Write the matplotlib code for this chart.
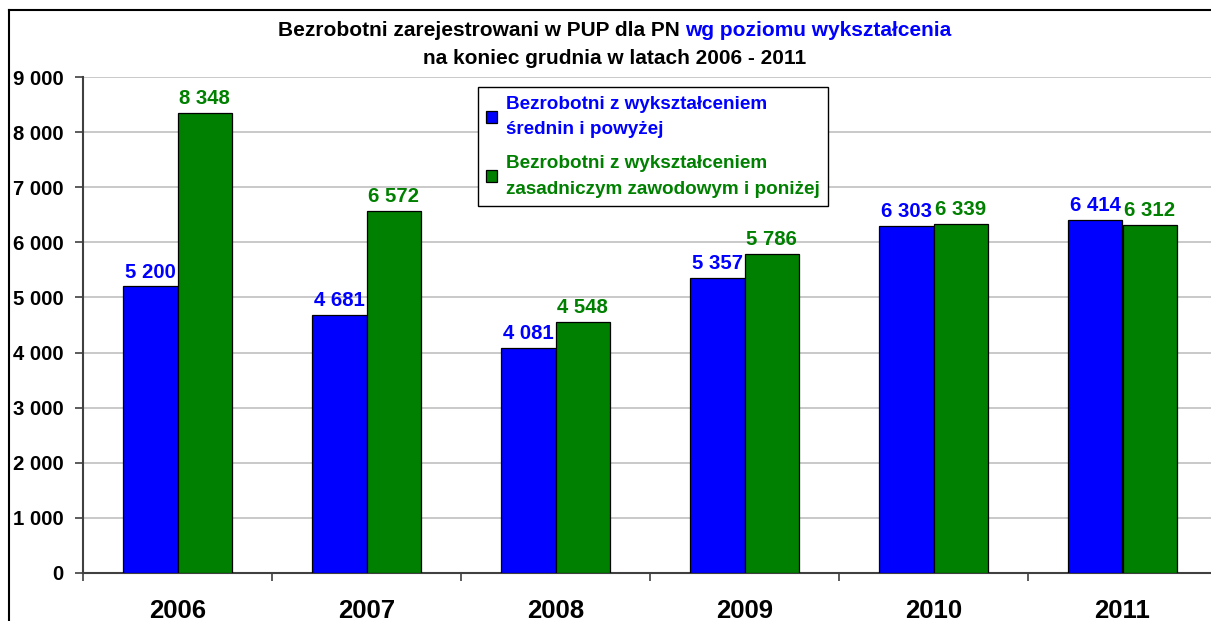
import matplotlib.pyplot as plt
from matplotlib.lines import Line2D
from matplotlib.ticker import FuncFormatter, MultipleLocator
import numpy as np

plt.rcParams['font.family'] = ['Liberation Sans', 'DejaVu Sans']
plt.rcParams['font.weight'] = 'bold'

years = ['2006', '2007', '2008', '2009', '2010', '2011']
srednie = [5200, 4681, 4081, 5357, 6303, 6414]
zawodowe = [8348, 6572, 4548, 5786, 6339, 6312]
labels = ['Bezrobotni z wykształceniem\nśrednin i powyżej',
          'Bezrobotni z wykształceniem\nzasadniczym zawodowym i poniżej']

blue = '#0000FF'
green = '#008000'

fig = plt.figure(figsize=(12.11, 6.21), dpi=100)
ax = fig.add_axes([83 / 1211, 1 - 572.7 / 621, 1134 / 1211, 495.4 / 621])

x = np.arange(len(years))
w = 0.286
b1 = ax.bar(x - w / 2, srednie, w, color=blue, edgecolor='black', linewidth=0.9,
            label=labels[0], zorder=3)
b2 = ax.bar(x + w / 2, zawodowe, w, color=green, edgecolor='black', linewidth=0.9,
            label=labels[1], zorder=3)

fmt = lambda v: f'{int(v):,}'.replace(',', ' ')
for bars, vals, col in [(b1, srednie, blue), (b2, zawodowe, green)]:
    for r, v in zip(bars, vals):
        ax.annotate(fmt(v), (r.get_x() + r.get_width() / 2, v), xytext=(0, 3.5),
                    textcoords='offset points', ha='center', va='bottom',
                    color=col, fontsize=14.7, fontweight='bold')

ax.set_xlim(-0.5, len(years) - 0.5)
ax.set_ylim(0, 9000)
ax.yaxis.set_major_locator(MultipleLocator(1000))
ax.yaxis.set_major_formatter(FuncFormatter(lambda v, p: fmt(v)))
ax.grid(axis='y', color='#C0C0C0', linewidth=1.2, zorder=0)

ax.set_xticks(np.arange(len(years) + 1) - 0.5)
ax.set_xticklabels([])
ax.set_xticks(x, minor=True)
ax.set_xticklabels(years, minor=True, fontsize=18.5, fontweight='bold')
ax.tick_params(axis='x', which='minor', length=0, pad=19)
ax.tick_params(axis='x', which='major', length=6, width=1.2, color='#404040')
ax.tick_params(axis='y', length=6, width=1.2, color='#404040', labelsize=14.7, pad=8)

for s in ['top', 'right']:
    ax.spines[s].set_visible(False)
for s in ['left', 'bottom']:
    ax.spines[s].set_color('#404040')
    ax.spines[s].set_linewidth(1.5)

leg = ax.legend(loc='upper left', bbox_to_anchor=(0.348, 0.98), borderaxespad=0,
                fancybox=False, edgecolor='black', framealpha=1,
                prop={'size': 13.6, 'weight': 'bold'},
                handlelength=0.6, handleheight=0.6, handletextpad=0.45,
                labelspacing=0.9, borderpad=0.45)
leg.get_frame().set_linewidth(1.0)
for t, col in zip(leg.get_texts(), [blue, green]):
    t.set_color(col)
    t.set_linespacing(1.65)

# title in two colours
t1 = fig.text(278 / 1211, 1 - 31 / 621, 'Bezrobotni zarejestrowani w PUP dla PN ',
              ha='left', va='center', fontsize=15, fontweight='bold', color='black')
fig.canvas.draw()
ax.annotate('wg poziomu wykształcenia', xy=(1, 0), xycoords=t1, ha='left', va='bottom',
            fontsize=15, fontweight='bold', color=blue, annotation_clip=False)
fig.text(615 / 1211, 1 - 58 / 621, 'na koniec grudnia w latach 2006 - 2011',
         ha='center', va='center', fontsize=15, fontweight='bold', color='black')

# outer chart border (left and top visible)
fig.add_artist(Line2D([9 / 1211, 9 / 1211], [0, 1 - 10 / 621], color='black', linewidth=1.5))
fig.add_artist(Line2D([9 / 1211, 1], [1 - 10 / 621, 1 - 10 / 621], color='black', linewidth=1.5))

fig.savefig('out.png', dpi=100)
